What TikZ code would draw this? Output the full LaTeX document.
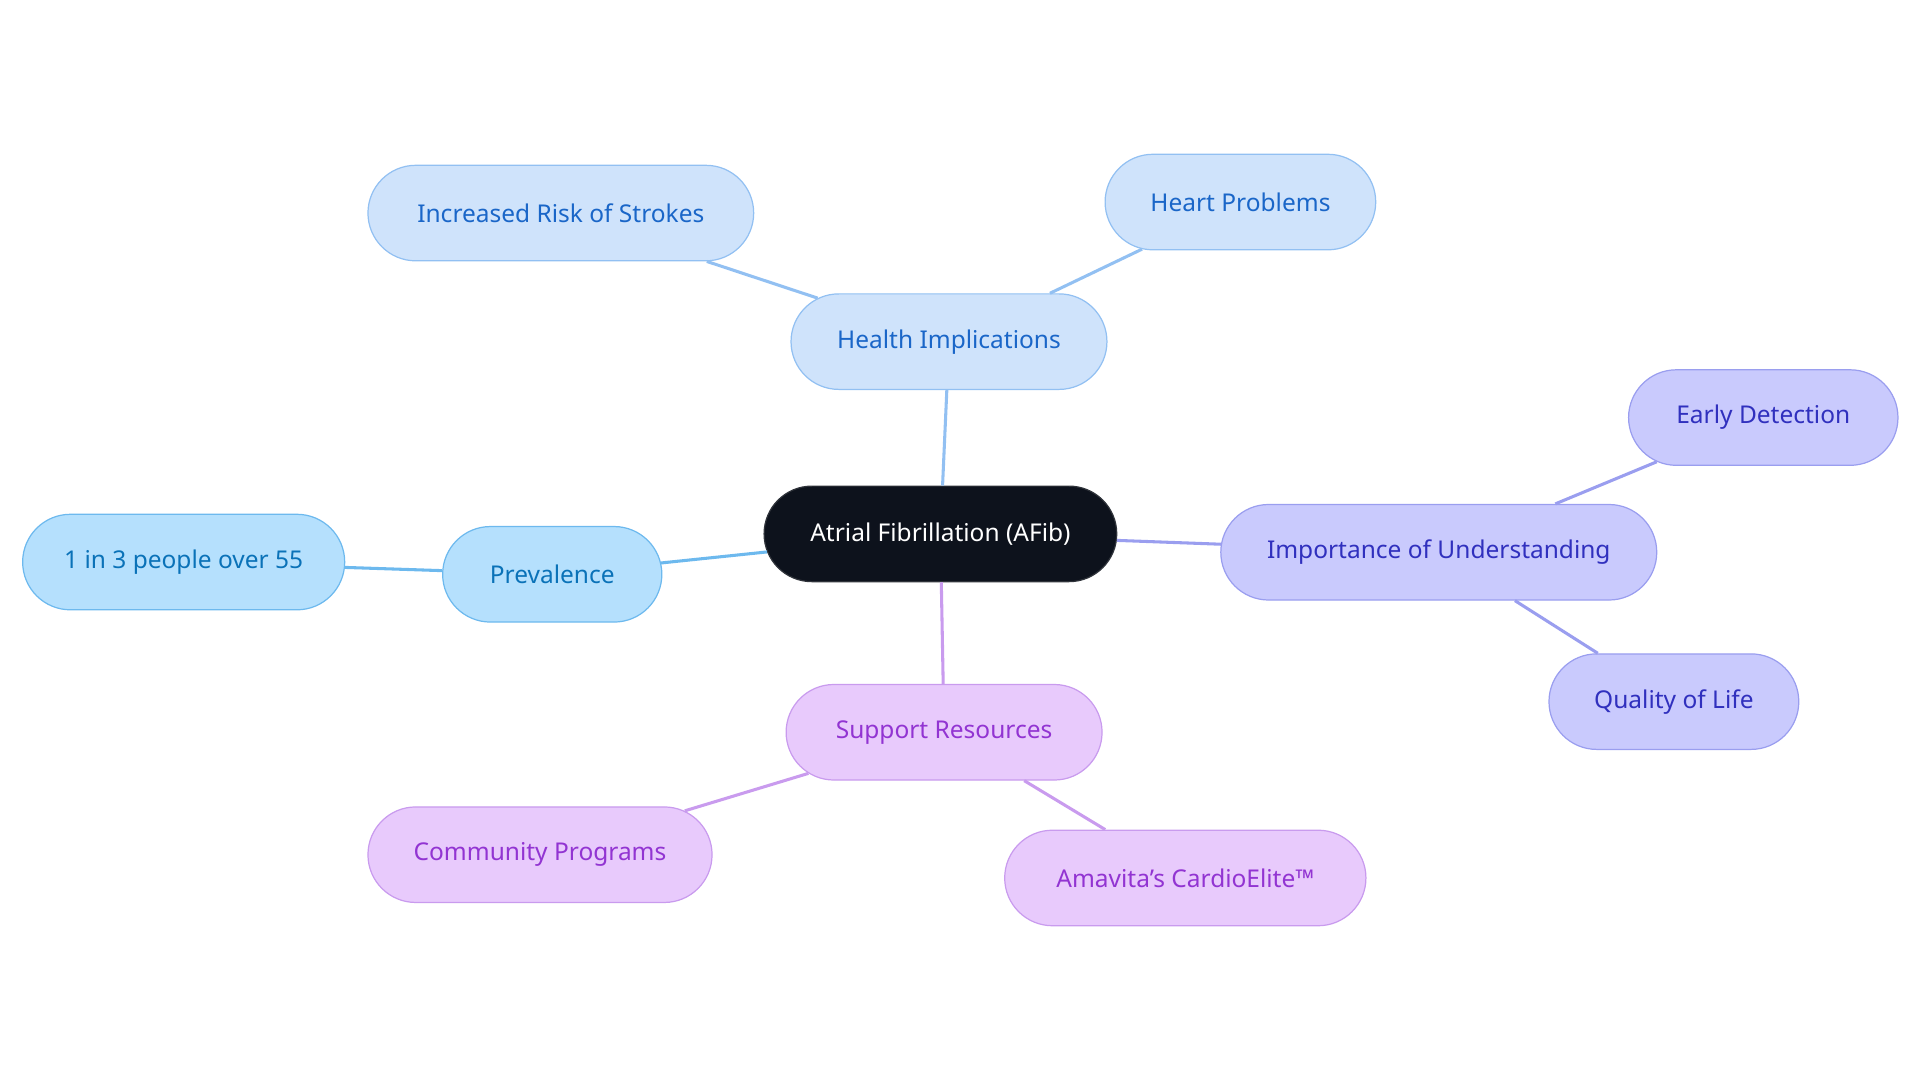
\documentclass[tikz,border=0pt]{standalone}
\usepackage{fontspec}
\setmainfont{Noto Sans}
\usetikzlibrary{shapes.misc}
\definecolor{blF}{HTML}{CFE3FB}\definecolor{blD}{HTML}{92C0F2}\definecolor{blT}{HTML}{1A66C8}
\definecolor{cyF}{HTML}{B5E0FD}\definecolor{cyD}{HTML}{6DB9EE}\definecolor{cyT}{HTML}{0A72B8}
\definecolor{inF}{HTML}{C9CAFD}\definecolor{inD}{HTML}{9A9EEF}\definecolor{inT}{HTML}{3030BE}
\definecolor{puF}{HTML}{E8CAFC}\definecolor{puD}{HTML}{C99BEE}\definecolor{puT}{HTML}{9234D2}
\definecolor{ctr}{HTML}{0D121C}
\begin{document}
\begin{tikzpicture}[x=1pt,y=-1pt,
 nd/.style={rounded rectangle,minimum height=78pt,inner xsep=0pt,line width=1pt,font=\fontsize{20}{24}\selectfont},
 nbl/.style={nd,fill=blF,draw=blD,text=blT},
 ncy/.style={nd,fill=cyF,draw=cyD,text=cyT},
 nin/.style={nd,fill=inF,draw=inD,text=inT},
 npu/.style={nd,fill=puF,draw=puD,text=puT},
 ed/.style={line width=2.5pt}]
\useasboundingbox (0,0) rectangle (1568,884);
\node[nd,fill=ctr,draw=ctr!70!gray,text=white,minimum width=288pt] (c) at (768,436) {Atrial Fibrillation (AFib)};
\node[nbl,minimum width=258pt] (h) at (775,279) {Health Implications};
\node[nbl,minimum width=315pt] (h1) at (458,174) {Increased Risk of Strokes};
\node[nbl,minimum width=221pt] (h2) at (1013,165) {Heart Problems};
\node[nin,minimum width=356pt] (i) at (1175,451) {Importance of Understanding};
\node[nin,minimum width=220pt] (i1) at (1440,341) {Early Detection};
\node[nin,minimum width=204pt] (i2) at (1367,573) {Quality of Life};
\node[ncy,minimum width=179pt] (p) at (451,469) {Prevalence};
\node[ncy,minimum width=263pt] (p1) at (150,459) {1 in 3 people over 55};
\node[npu,minimum width=258pt] (s) at (771,598) {Support Resources};
\node[npu,minimum width=281pt] (s1) at (441,698) {Community Programs};
\node[npu,minimum width=295pt] (s2) at (968,717) {Amavita's CardioElite™};
\draw[ed,blD] (c)--(h) (h)--(h1) (h)--(h2);
\draw[ed,inD] (c)--(i) (i)--(i1) (i)--(i2);
\draw[ed,cyD] (c)--(p) (p)--(p1);
\draw[ed,puD] (c)--(s) (s)--(s1) (s)--(s2);
\end{tikzpicture}
\end{document}
